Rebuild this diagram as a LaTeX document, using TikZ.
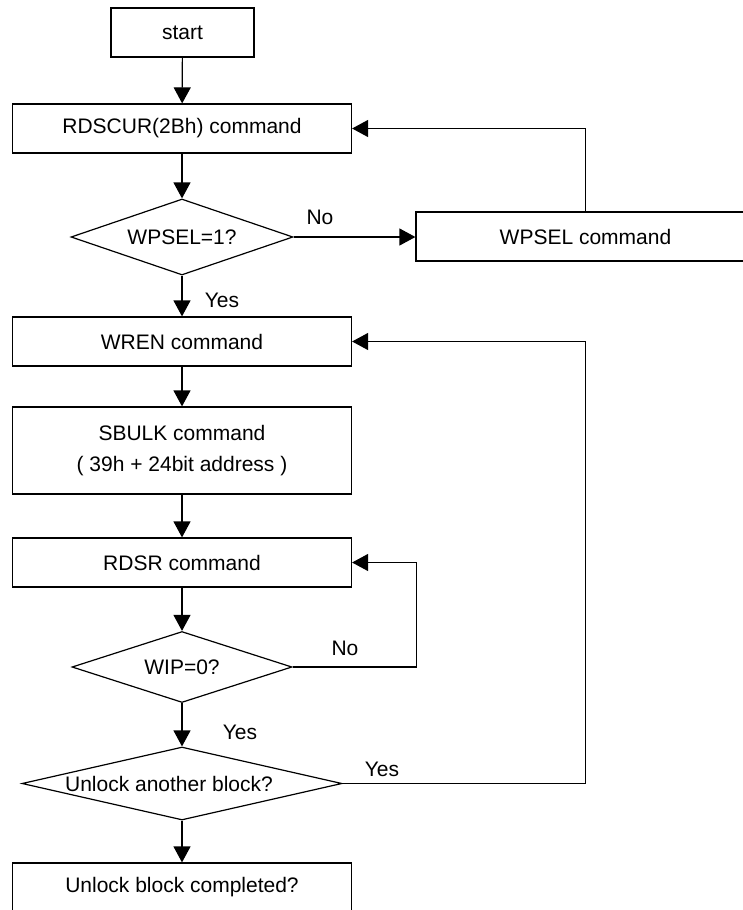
\documentclass[tikz,border=0pt]{standalone}
\usepackage{fontspec}
\setmainfont{Liberation Sans}
\usetikzlibrary{shapes.geometric,arrows.meta}

\begin{document}
\begin{tikzpicture}[x=0.5pt,y=-0.5pt,
    txt/.style={font=\fontsize{10.5}{15.5}\selectfont},
    box/.style={draw,txt,line width=0.6pt,minimum width=169.5pt,minimum height=24.5pt,inner sep=0pt,align=center},
    decision/.style={draw,txt,diamond,line width=0.6pt,inner sep=0pt},
    arr/.style={-{Triangle[length=8pt,width=8.5pt]},line width=0.6pt}]
    \useasboundingbox (0,0) rectangle (743,910);

    % Main column
    \node[box,minimum width=71.5pt] (start) at (182.5,32.5) {start};
    \node[box] (rdscur) at (182,128.5) {RDSCUR(2Bh) command};
    \node[decision,minimum width=111pt,minimum height=38pt] (wpsel) at (182,237) {\makebox[0pt]{WPSEL=1?}};
    \node[box] (wpselcmd) at (585.5,236.5) {WPSEL command};
    \node[box] (wren) at (182,341.5) {WREN command};
    \node[box,minimum height=43.5pt] (sbulk) at (182,450.5) {SBULK command\\( 39h + 24bit address )};
    \node[box] (rdsr) at (182,562.5) {RDSR command};
    \node[decision,minimum width=110pt,minimum height=35.5pt] (wip) at (182,667) {\makebox[0pt]{WIP=0?}};
    \node[decision,minimum width=160pt,minimum height=36.5pt] (unlock) at (182,783.5) {\makebox[0pt]{Unlock another block?\hspace{13pt}}};
    \node[box] (done) at (182,887.5) {Unlock block completed?};

    % Arrows
    \draw[arr] (start) -- (rdscur);
    \draw[arr] (rdscur) -- (wpsel);
    \draw[arr] (wpsel.east) -- (wpsel.east -| wpselcmd.west);
    \draw[arr] (wpselcmd.north) |- (rdscur.east);
    \draw[arr] (wpsel) -- (wren);
    \draw[arr] (wren) -- (sbulk);
    \draw[arr] (sbulk) -- (rdsr);
    \draw[arr] (rdsr) -- (wip);
    \draw[arr] (wip.east) -- ++(124,0) |- (rdsr.east);
    \draw[arr] (wip) -- (unlock);
    \draw[arr] (unlock.east) -- (unlock.east -| wpselcmd.north) |- (wren.east);
    \draw[arr] (unlock) -- (done);

    % Labels
    \node[txt] (no1) at (320,217) {No};
    \node[txt] (yes1) at (222,300) {Yes};
    \node[txt] (no2) at (345,648) {No};
    \node[txt] (yes2) at (240,732) {Yes};
    \node[txt] (yes3) at (382,769) {Yes};
\end{tikzpicture}
\end{document}
